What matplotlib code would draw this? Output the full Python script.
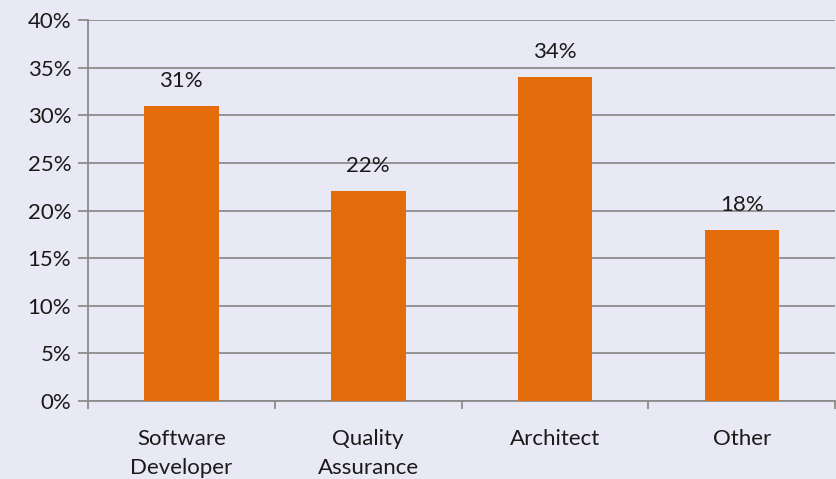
import matplotlib.pyplot as plt
import numpy as np

roles = ["Software\nDeveloper", "Quality\nAssurance", "Architect", "Other"]
shares = [31, 22, 34, 18]
yticks = [0, 5, 10, 15, 20, 25, 30, 35, 40]

bg = "#E9E9F5"
bar_color = "#E46C0A"
grid_color = "#8C8C8C"

plt.rcParams["font.family"] = ["Lato", "DejaVu Sans"]

fig = plt.figure(figsize=(8.37, 4.79), dpi=100, facecolor=bg)
ax = fig.add_axes([0.105, 0.163, 0.893, 0.795], facecolor=bg)

x = np.arange(len(roles))
ax.bar(x, shares, width=0.4, color=bar_color, zorder=3)

for xi, v in zip(x, shares):
    ax.annotate(f"{v}%", (xi, v), xytext=(0, 18), textcoords="offset points",
                ha="center", va="center", fontsize=16, color="#1a1a1a")

ax.set_xlim(-0.5, len(roles) - 0.5)
ax.set_ylim(0, 40)
ax.set_yticks(yticks)
ax.set_yticklabels([f"{t}%" for t in yticks], fontsize=16, color="#1a1a1a")
ax.yaxis.grid(True, color=grid_color, linewidth=1.3, zorder=0)

ax.set_xticks(x)
ax.set_xticklabels(roles, fontsize=16, color="#1a1a1a", linespacing=1.6)
ax.set_xticks(np.arange(-0.5, len(roles)), minor=True)
ax.tick_params(axis="x", which="major", length=0, pad=20)
ax.tick_params(axis="x", which="minor", length=6, width=1.3, color=grid_color, direction="out")
ax.tick_params(axis="y", length=7, width=1.3, color=grid_color, pad=5)

for side in ["top", "right"]:
    ax.spines[side].set_visible(False)
for side in ["left", "bottom"]:
    ax.spines[side].set_color(grid_color)
    ax.spines[side].set_linewidth(1.3)

fig.savefig("out.png", dpi=100, facecolor=bg)
